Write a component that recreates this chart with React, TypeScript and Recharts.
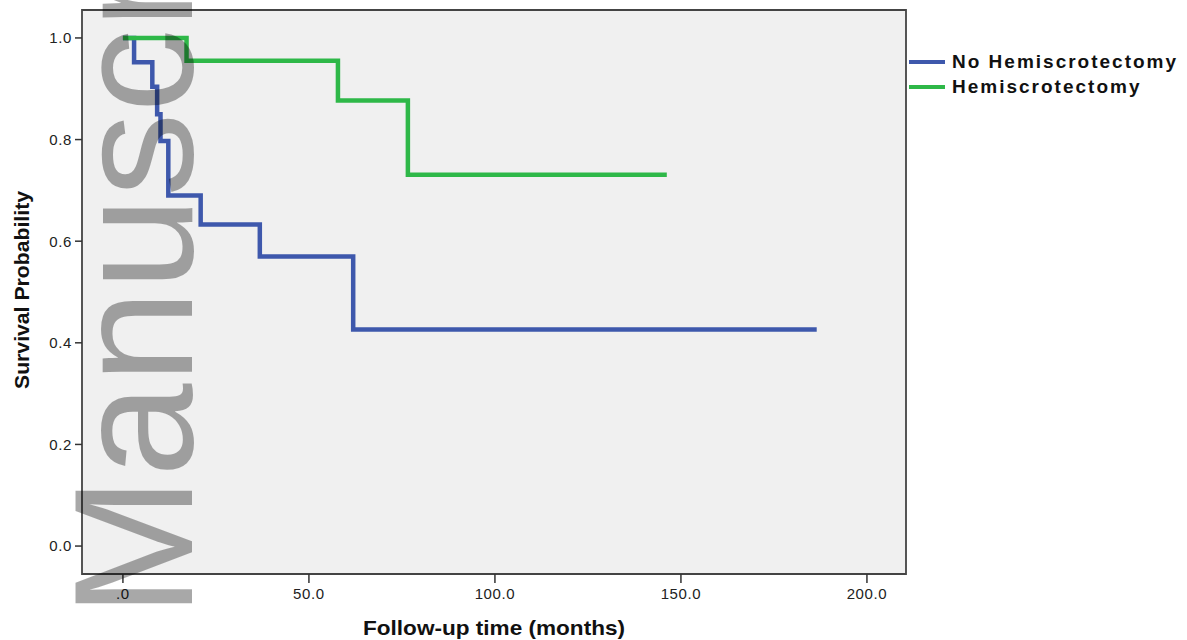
import { LineChart, Line, XAxis, YAxis, CartesianGrid, ReferenceArea, Label } from 'recharts';

// Kaplan-Meier steps (months, survival probability)
const noHemiMonths = [0, 3.0, 7.9, 9.2, 10.1, 12.2, 20.9, 36.8, 61.9, 186.5];
const noHemiSurvival = [1.0, 0.952, 0.904, 0.85, 0.797, 0.69, 0.633, 0.57, 0.426, 0.426];
const hemiMonths = [0, 17.1, 57.8, 76.6, 146.2];
const hemiSurvival = [1.0, 0.955, 0.877, 0.731, 0.731];

const xTicks = [0, 50, 100, 150, 200];
const yTicks = [0, 0.2, 0.4, 0.6, 0.8, 1.0];
const xDomain: [number, number] = [-11, 210.5];
const yDomain: [number, number] = [-0.055, 1.055];

const FONT = "'Liberation Sans', Arial, sans-serif";

const toPoints = (months: number[], surv: number[]) =>
  months.map((m, i) => ({ month: m, surv: surv[i] }));

const series = [
  { name: 'No Hemiscrotectomy', color: '#3E58AC', data: toPoints(noHemiMonths, noHemiSurvival) },
  { name: 'Hemiscrotectomy', color: '#2EB848', data: toPoints(hemiMonths, hemiSurvival) },
];

const tickStyle = { fontSize: 15, fill: '#222', fontFamily: FONT, letterSpacing: 0.6 };

function Legend() {
  return (
    <div style={{ position: 'absolute', left: 909, top: 49, fontFamily: FONT }}>
      {series.map((s) => (
        <div key={s.name} style={{ display: 'flex', alignItems: 'center', height: 25 }}>
          <span style={{ width: 36, height: 4, background: s.color, marginRight: 7 }} />
          <span style={{ fontSize: 19, fontWeight: 'bold', color: '#111', letterSpacing: 2 }}>{s.name}</span>
        </div>
      ))}
    </div>
  );
}

export default function App() {
  return (
    <div style={{ position: 'absolute', left: 0, top: 0, width: 1187, height: 640, background: '#fff' }}>
      <LineChart width={1187} height={640} margin={{ top: 10, right: 281, bottom: 0, left: 0 }}>
        <CartesianGrid fill="#f0f0f0" horizontal={false} vertical={false} />
        <XAxis
          dataKey="month"
          type="number"
          domain={xDomain}
          ticks={xTicks}
          allowDataOverflow
          height={66}
          axisLine={false}
          tickSize={9}
          tickMargin={5}
          tickLine={{ stroke: '#333', strokeWidth: 1.5 }}
          tick={tickStyle}
          tickFormatter={(v) => (v === 0 ? '.0' : (v as number).toFixed(1))}
        >
          <Label
            content={({ viewBox }: any) => (
              <text
                x={viewBox.x + viewBox.width / 2}
                y={viewBox.y + 53}
                textAnchor="middle"
                dominantBaseline="central"
                fontFamily={FONT}
                fontWeight="bold"
                fontSize={21}
                fill="#111"
                textLength={262}
                lengthAdjust="spacingAndGlyphs"
              >
                Follow-up time (months)
              </text>
            )}
          />
        </XAxis>
        <YAxis
          type="number"
          domain={yDomain}
          ticks={yTicks}
          allowDataOverflow
          width={82}
          axisLine={false}
          tickSize={7}
          tickMargin={3}
          tickLine={{ stroke: '#333', strokeWidth: 1.5 }}
          tick={tickStyle}
          tickFormatter={(v) => (v as number).toFixed(1)}
        >
          <Label
            content={({ viewBox }: any) => {
              const cx = viewBox.x + 21;
              const cy = viewBox.y + viewBox.height / 2 - 2;
              return (
                <text
                  x={cx}
                  y={cy}
                  transform={`rotate(-90 ${cx} ${cy})`}
                  textAnchor="middle"
                  dominantBaseline="central"
                  fontFamily={FONT}
                  fontWeight="bold"
                  fontSize={21}
                  fill="#111"
                  textLength={198}
                  lengthAdjust="spacingAndGlyphs"
                >
                  Survival Probability
                </text>
              );
            }}
          />
        </YAxis>
        <ReferenceArea
          x1={xDomain[0]}
          x2={xDomain[1]}
          y1={yDomain[0]}
          y2={yDomain[1]}
          fill="none"
          stroke="#444"
          strokeWidth={1.8}
          ifOverflow="visible"
        />
        {series.map((s) => (
          <Line
            key={s.name}
            name={s.name}
            data={s.data}
            dataKey="surv"
            type="stepAfter"
            stroke={s.color}
            strokeWidth={4.5}
            dot={false}
            activeDot={false}
            isAnimationActive={false}
          />
        ))}
      </LineChart>
      <Legend />
      <svg
        width={1187}
        height={640}
        style={{ position: 'absolute', left: 0, top: 0, pointerEvents: 'none' }}
      >
        <text
          x={192}
          y={617}
          transform="rotate(-90 192 617)"
          fontFamily={FONT}
          fontSize={168}
          fill="rgba(0,0,0,0.34)"
        >
          Manuscript
        </text>
      </svg>
    </div>
  );
}
